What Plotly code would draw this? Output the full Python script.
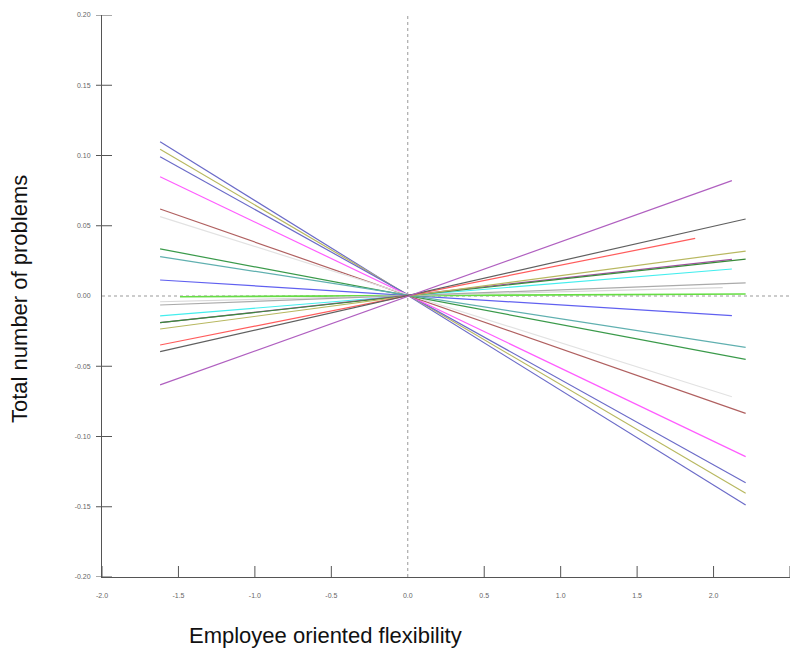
import plotly.graph_objects as go

# Data: each fitted line drawn from its left end to its right end
x_left = [-1.62, -1.62, -1.62, -1.62, -1.62, -1.62, -1.62, -1.62, -1.62, -1.49,
          -1.62, -1.62, -1.62, -1.62, -1.62, -1.62, -1.62, -1.62, -1.62]
y_left = [0.1098, 0.1044, 0.0991, 0.0849, 0.0619, 0.0565, 0.0335, 0.0280, 0.0114, -0.0005,
          -0.0041, -0.0064, -0.0142, -0.0190, -0.0190, -0.0235, -0.0349, -0.0396, -0.0633]
x_right = [2.21, 2.21, 2.21, 2.21, 2.21, 2.12, 2.21, 2.21, 2.12, 2.21,
           2.06, 2.21, 2.12, 2.12, 2.21, 2.21, 1.88, 2.21, 2.12]
y_right = [-0.1488, -0.1404, -0.1329, -0.1143, -0.0835, -0.0717, -0.0451, -0.0366, -0.0140, 0.0014,
           0.0059, 0.0094, 0.0192, 0.0261, 0.0262, 0.0320, 0.0410, 0.0548, 0.0821]

x_ticks = [-2.0, -1.5, -1.0, -0.5, 0.0, 0.5, 1.0, 1.5, 2.0, 2.5]
y_ticks = [-0.20, -0.15, -0.10, -0.05, 0.00, 0.05, 0.10, 0.15, 0.20]

colors = ["#6b6bc8", "#b8b860", "#6b6bc8", "#ff5cff", "#b06060", "#e2e2e2", "#3a9a4a",
          "#60b0b0", "#6060f0", "#66dd44", "#d8d8d8", "#aaaaaa", "#44eeee", "#a050a0",
          "#3a8a3a", "#b8b860", "#ff5c5c", "#606060", "#b060c0"]

PLOT_W, PLOT_H = 688, 562

fig = go.Figure()

# reference dashed lines at zero
fig.add_shape(type="line", xref="x", yref="y", x0=0, x1=0, y0=-0.2, y1=0.2,
              line=dict(color="#999999", width=1, dash="dot"), layer="below")
fig.add_shape(type="line", xref="x", yref="y", x0=-2.0, x1=2.5, y0=0, y1=0,
              line=dict(color="#999999", width=1, dash="dot"), layer="below")

# tick marks (drawn as shapes so they can cross the axis line)
for v in x_ticks:
    if v == 0:
        continue
    fig.add_shape(type="line", xref="x", yref="paper", x0=v, x1=v,
                  y0=-1 / PLOT_H, y1=11 / PLOT_H, line=dict(color="#555555", width=1))
for v in y_ticks:
    if v == 0:
        continue
    fig.add_shape(type="line", xref="paper", yref="y", x0=-6 / PLOT_W, x1=10 / PLOT_W,
                  y0=v, y1=v, line=dict(color="#555555", width=1))

for i in range(len(x_left)):
    fig.add_trace(go.Scatter(
        x=[x_left[i], x_right[i]], y=[y_left[i], y_right[i]],
        mode="lines", line=dict(color=colors[i], width=1.6 if i == 9 else 1.2),
        showlegend=False, hoverinfo="skip"))

fig.update_layout(
    width=793, height=651,
    margin=dict(l=102, r=3, t=15, b=74),
    paper_bgcolor="white", plot_bgcolor="white",
    font=dict(family="Liberation Sans, Arial, sans-serif"),
    annotations=[
        dict(text="Employee oriented flexibility", xref="paper", yref="paper",
             x=(325 - 102) / PLOT_W, y=(577 - 635) / PLOT_H, xanchor="center", yanchor="middle",
             showarrow=False, font=dict(size=22, color="#111111")),
        dict(text="Total number of problems", xref="paper", yref="paper",
             x=(20 - 102) / PLOT_W, y=(577 - 299) / PLOT_H, xanchor="center", yanchor="middle",
             textangle=-90, showarrow=False, font=dict(size=22, color="#111111")),
    ],
)
fig.update_xaxes(
    range=[-2.0, 2.5], tickvals=x_ticks, ticktext=[f"{v:.1f}" for v in x_ticks],
    showgrid=False, zeroline=False, showline=True, linecolor="#555555", linewidth=1,
    ticks="", ticklabelstandoff=12,
    tickfont=dict(size=7, color="#666666", family="Liberation Sans Narrow, Liberation Sans"),
)
fig.update_yaxes(
    range=[-0.2, 0.2], tickvals=y_ticks, ticktext=[f"{v:.2f}" for v in y_ticks],
    showgrid=False, zeroline=False, showline=True, linecolor="#555555", linewidth=1,
    ticks="", ticklabelstandoff=9,
    tickfont=dict(size=7, color="#666666", family="Liberation Sans Narrow, Liberation Sans"),
)

fig.write_html("out.html")
